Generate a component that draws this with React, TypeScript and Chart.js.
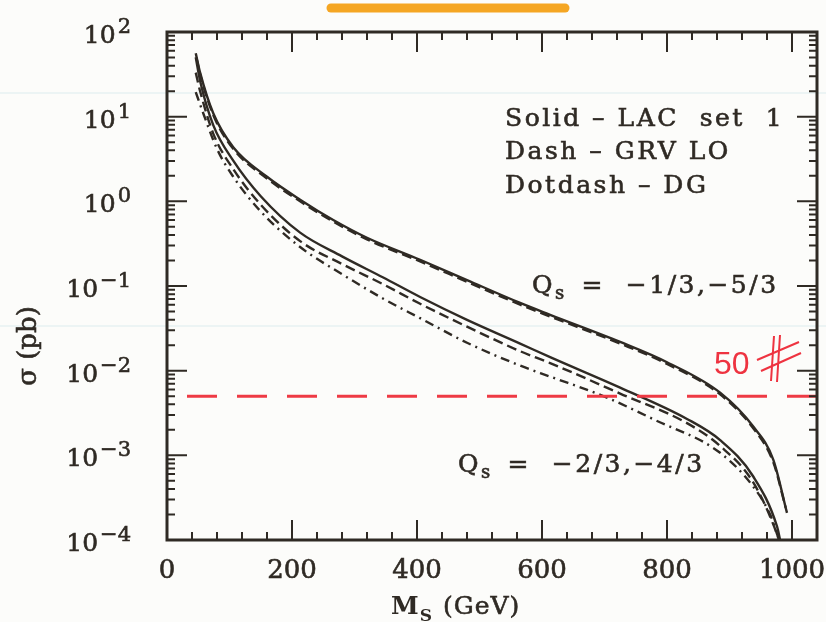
import { useEffect, useRef } from "react";
import { Chart, registerables } from "chart.js";

Chart.register(...registerables);

// Axis ticks
const massMajorTicks = [0, 200, 400, 600, 800, 1000];
const massMinorStep = 40;
const massMax = 1040;
const sigmaDecades = [-4, -3, -2, -1, 0, 1, 2];

// Q_s = -1/3, -5/3 : LAC set 1 (solid) and GRV LO (dash), log10(sigma / pb)
const upperSolidMass = [46, 53, 74, 106, 160, 213, 266, 320, 405, 480, 565, 613, 725, 800, 885, 938, 970, 992];
const upperSolidLog10 = [1.75, 1.52, 1.04, 0.64, 0.29, 0.02, -0.22, -0.43, -0.69, -0.93, -1.2, -1.34, -1.66, -1.9, -2.26, -2.66, -3.05, -3.68];
const upperDashMass = [47, 53, 74, 106, 160, 213, 266, 320, 405, 480, 565, 613, 725, 800, 885, 938, 970, 990];
const upperDashLog10 = [1.7, 1.5, 1.02, 0.62, 0.27, 0.0, -0.24, -0.45, -0.71, -0.95, -1.22, -1.36, -1.68, -1.92, -2.28, -2.68, -3.08, -3.62];

// Q_s = -2/3, -4/3 : LAC set 1 (solid), GRV LO (dash), DG (dotdash)
const lowerSolidMass = [46, 53, 74, 106, 150, 213, 280, 346, 405, 480, 565, 613, 725, 832, 885, 938, 976, 981];
const lowerSolidLog10 = [1.7, 1.42, 0.9, 0.48, 0.06, -0.37, -0.65, -0.9, -1.13, -1.4, -1.68, -1.84, -2.2, -2.57, -2.82, -3.25, -3.84, -4.0];
const lowerDashMass = [46, 53, 74, 106, 150, 213, 280, 346, 405, 480, 565, 613, 725, 832, 885, 938, 976, 979];
const lowerDashLog10 = [1.52, 1.3, 0.8, 0.38, -0.04, -0.47, -0.74, -0.98, -1.21, -1.48, -1.77, -1.91, -2.27, -2.62, -2.89, -3.32, -3.93, -4.0];
const lowerDotDashMass = [46, 58, 80, 106, 150, 213, 280, 346, 405, 480, 565, 613, 698, 780, 885, 938, 965, 978];
const lowerDotDashLog10 = [1.29, 1.04, 0.62, 0.29, -0.12, -0.54, -0.86, -1.15, -1.38, -1.67, -1.94, -2.07, -2.3, -2.58, -2.97, -3.37, -3.7, -3.97];

// 50-event threshold
const eventSigma = 0.005;
const eventMass = [32, 1062];

const ink = "#2f2a24";
const serif = '"DejaVu Serif", "Liberation Serif", serif';

const toPoints = (m: number[], lg: number[]) => m.map((x, i) => ({ x, y: Math.pow(10, lg[i]) }));

export default function App() {
  const ref = useRef<HTMLCanvasElement | null>(null);

  useEffect(() => {
    const canvas = ref.current;
    if (!canvas) return;

    const frame = {
      id: "frame",
      beforeDraw(chart: any) {
        const { ctx, width, height } = chart;
        ctx.save();
        ctx.fillStyle = "#fcfcfa";
        ctx.fillRect(0, 0, width, height);
        // ruled paper lines
        ctx.strokeStyle = "#dcebee";
        ctx.lineWidth = 1.2;
        [93, 326].forEach((y) => {
          ctx.beginPath();
          ctx.moveTo(0, y);
          ctx.lineTo(width, y);
          ctx.stroke();
        });
        // highlighter stroke
        ctx.strokeStyle = "#f5a623";
        ctx.lineCap = "round";
        ctx.lineWidth = 9;
        ctx.beginPath();
        ctx.moveTo(331, 8);
        ctx.lineTo(565, 8);
        ctx.stroke();
        ctx.restore();
      },
      afterDatasetsDraw(chart: any) {
        const { ctx, chartArea: a } = chart;
        const xs = chart.scales.x;
        const ys = chart.scales.y;
        ctx.save();
        ctx.strokeStyle = ink;
        ctx.fillStyle = ink;

        // ticks
        ctx.lineWidth = 2;
        const major = 20;
        const minor = 8;
        for (let v = 0; v <= massMax; v += massMinorStep) {
          const px = xs.getPixelForValue(v);
          const len = massMajorTicks.includes(v) ? major : minor;
          ctx.beginPath();
          ctx.moveTo(px, a.bottom);
          ctx.lineTo(px, a.bottom - len);
          ctx.moveTo(px, a.top);
          ctx.lineTo(px, a.top + len);
          ctx.stroke();
        }
        sigmaDecades.forEach((e) => {
          for (let k = 1; k <= 9; k++) {
            if (e === 2 && k > 1) break;
            const py = ys.getPixelForValue(k * Math.pow(10, e));
            const len = k === 1 ? major : minor;
            ctx.beginPath();
            ctx.moveTo(a.left, py);
            ctx.lineTo(a.left + len, py);
            ctx.moveTo(a.right, py);
            ctx.lineTo(a.right - len, py);
            ctx.stroke();
          }
        });

        // plot frame
        ctx.lineWidth = 3;
        ctx.strokeRect(a.left, a.top, a.right - a.left, a.bottom - a.top);

        // text drawn with a thin outline so it reads like the heavier print
        ctx.lineWidth = 0.6;
        const txt = (s: string, x: number, y: number) => {
          ctx.fillText(s, x, y);
          ctx.strokeText(s, x, y);
        };

        // x tick labels
        ctx.font = `26px ${serif}`;
        ctx.textAlign = "center";
        ctx.textBaseline = "alphabetic";
        massMajorTicks.forEach((v) => {
          txt(String(v), xs.getPixelForValue(v), 578);
        });

        // y tick labels: 10 with superscript exponent
        sigmaDecades.forEach((e) => {
          const py = ys.getPixelForValue(Math.pow(10, e));
          const sup = e < 0 ? `\u2212${-e}` : String(e);
          ctx.font = `21px ${serif}`;
          const ws = ctx.measureText(sup).width;
          ctx.font = `25px ${serif}`;
          const wb = ctx.measureText("10").width;
          const right = 131;
          ctx.textAlign = "left";
          txt("10", right - ws - wb - 2, py + 11);
          ctx.font = `21px ${serif}`;
          txt(sup, right - ws, py + 1);
        });

        // axis titles
        ctx.save();
        ctx.translate(29, 346);
        ctx.rotate(-Math.PI / 2);
        ctx.font = `26px ${serif}`;
        ctx.textAlign = "center";
        ctx.textBaseline = "middle";
        txt("\u03c3 (pb)", 0, 0);
        ctx.restore();

        ctx.textAlign = "left";
        ctx.font = `bold 25px ${serif}`;
        ctx.fillText("M", 391, 614);
        const wm = ctx.measureText("M").width;
        ctx.font = `bold 17px ${serif}`;
        ctx.fillText("S", 391 + wm + 1, 621);
        ctx.font = `25px ${serif}`;
        ctx.letterSpacing = "1px";
        txt("(GeV)", 443, 614);

        // legend text
        ctx.font = `25px ${serif}`;
        ctx.letterSpacing = "2.5px";
        txt("Solid \u2013 LAC  set  1", 505, 126);
        txt("Dash \u2013 GRV LO", 505, 159);
        txt("Dotdash \u2013 DG", 505, 193);

        const charge = (x: number, y: number, rest: string) => {
          ctx.font = `25px ${serif}`;
          txt("Q", x, y);
          const wq = ctx.measureText("Q").width;
          ctx.font = `18px ${serif}`;
          txt("s", x + wq, y + 6);
          ctx.font = `25px ${serif}`;
          txt(rest, x + wq + 16, y);
        };
        charge(532, 293, " =  \u22121/3,\u22125/3");
        charge(458, 472, " =  \u22122/3,\u22124/3");
        ctx.letterSpacing = "0px";

        // handwritten event count
        ctx.fillStyle = "#ee3340";
        ctx.font = `32px "Liberation Sans", sans-serif`;
        ctx.fillText("50", 714, 374);
        ctx.strokeStyle = "#ee3340";
        ctx.lineWidth = 2;
        ctx.beginPath();
        ctx.moveTo(774, 336);
        ctx.lineTo(771, 381);
        ctx.moveTo(780, 335);
        ctx.lineTo(777, 382);
        ctx.moveTo(757, 360);
        ctx.lineTo(799, 342);
        ctx.moveTo(761, 371);
        ctx.lineTo(801, 353);
        ctx.stroke();

        ctx.restore();
      },
    };

    const curve = (data: any[], dash: number[]) => ({
      data,
      borderColor: ink,
      borderWidth: 2.4,
      borderDash: dash,
      pointRadius: 0,
      cubicInterpolationMode: "monotone" as const,
      fill: false,
    });

    const chart = new Chart(canvas, {
      type: "line",
      data: {
        datasets: [
          {
            data: eventMass.map((x) => ({ x, y: eventSigma })),
            borderColor: "#ee3a44",
            borderWidth: 3,
            borderDash: [30, 20],
            pointRadius: 0,
            clip: false as any,
            fill: false,
          },
          curve(toPoints(upperSolidMass, upperSolidLog10), []),
          curve(toPoints(upperDashMass, upperDashLog10), [10, 5]),
          curve(toPoints(lowerSolidMass, lowerSolidLog10), []),
          curve(toPoints(lowerDashMass, lowerDashLog10), [10, 5]),
          curve(toPoints(lowerDotDashMass, lowerDotDashLog10), [9, 5, 2, 5]),
        ],
      },
      options: {
        animation: false,
        responsive: false,
        events: [],
        layout: { padding: { left: 167, right: 9, top: 32, bottom: 82 } },
        plugins: { legend: { display: false }, tooltip: { enabled: false } },
        scales: {
          x: { type: "linear", min: 0, max: massMax, display: false },
          y: { type: "logarithmic", min: 1e-4, max: 100, display: false },
        },
      },
      plugins: [frame],
    });

    return () => chart.destroy();
  }, []);

  return (
    <div style={{ position: "fixed", left: 0, top: 0 }}>
      <canvas ref={ref} width={826} height={622} style={{ display: "block" }} />
    </div>
  );
}
